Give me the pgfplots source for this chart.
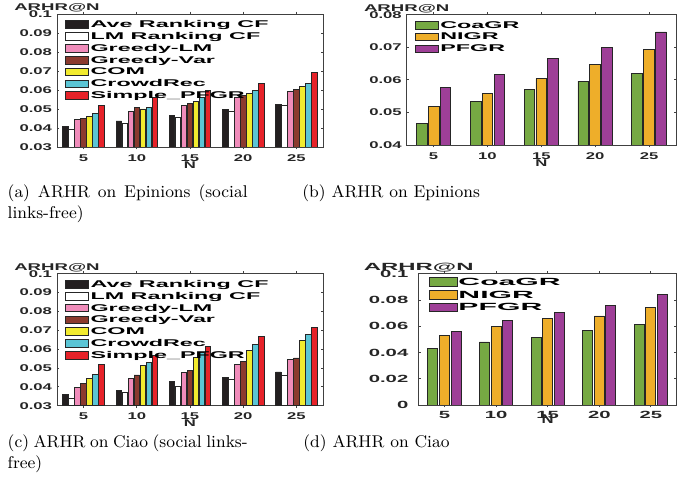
\documentclass[border=0pt]{standalone}
\usepackage{pgfplots}
\pgfplotsset{compat=1.18}
\usepackage{pgfplotstable}
\usepackage{fontspec}
% Wide bold sans used for everything inside the plots
\newfontfamily\plotfont{Liberation Sans Bold}[FakeStretch=1.7]
\newfontfamily\plotfontwide{Liberation Sans Bold}[FakeStretch=1.95]
\newfontfamily\legfont{Liberation Sans Bold}[FakeStretch=2.38]
\newfontfamily\legfontwide{Liberation Sans Bold}[FakeStretch=2.9]
\newfontfamily\labfont{Liberation Sans Bold}[FakeStretch=1.9]
\newfontfamily\labfontwide{Liberation Sans Bold}[FakeStretch=2.3]
\newfontfamily\nfont{Liberation Sans Bold}[FakeStretch=1.3]
\newcommand\pfs{\plotfont\fontsize{4.9}{5.2}\selectfont}
\newcommand\pfw{\plotfontwide\fontsize{5.2}{5.6}\selectfont}
\newcommand\lfs{\legfont\fontsize{4.9}{5.2}\selectfont}
\newcommand\lfw{\legfontwide\fontsize{5.2}{5.6}\selectfont}
\newcommand\yls{\labfont\fontsize{4.9}{5.2}\selectfont}
\newcommand\ylw{\labfontwide\fontsize{5.2}{5.6}\selectfont}
\newcommand\xlw{\nfont\fontsize{6.4}{6.8}\selectfont}

\definecolor{cAve}{HTML}{231F20}
\definecolor{cLM}{HTML}{FFFFFF}
\definecolor{cGLM}{HTML}{F08CBA}
\definecolor{cGVar}{HTML}{8B3A2E}
\definecolor{cCOM}{HTML}{F2EB2F}
\definecolor{cCrowd}{HTML}{5BC5D5}
\definecolor{cSimple}{HTML}{E62229}
\definecolor{cCoa}{HTML}{76A943}
\definecolor{cNIGR}{HTML}{EEAE2A}
\definecolor{cPFGR}{HTML}{9E3F97}

% ARHR@N, Epinions, social links-free baselines
\pgfplotstableread{
idx ave    lm     glm    gvar   com    crowd  simple
1   0.0407 0.0394 0.0443 0.0452 0.0463 0.0478 0.0520
2   0.0437 0.0426 0.0487 0.0510 0.0500 0.0510 0.0560
3   0.0468 0.0458 0.0517 0.0531 0.0542 0.0559 0.0598
4   0.0496 0.0489 0.0563 0.0571 0.0584 0.0598 0.0636
5   0.0526 0.0520 0.0594 0.0605 0.0619 0.0636 0.0690
}\tabEpFree
% ARHR@N, Epinions
\pgfplotstableread{
idx coa    nigr   pfgr
1   0.0465 0.0518 0.0578
2   0.0535 0.0558 0.0617
3   0.0571 0.0604 0.0665
4   0.0596 0.0648 0.0699
5   0.0620 0.0694 0.0747
}\tabEp
% ARHR@N, Ciao, social links-free baselines
\pgfplotstableread{
idx ave    lm     glm    gvar   com    crowd  simple
1   0.0358 0.0339 0.0395 0.0417 0.0443 0.0466 0.0521
2   0.0380 0.0371 0.0445 0.0463 0.0512 0.0530 0.0567
3   0.0427 0.0403 0.0477 0.0487 0.0556 0.0583 0.0616
4   0.0449 0.0438 0.0519 0.0535 0.0595 0.0625 0.0668
5   0.0479 0.0461 0.0544 0.0553 0.0646 0.0676 0.0717
}\tabCiFree
% ARHR@N, Ciao
\pgfplotstableread{
idx coa    nigr   pfgr
1   0.0431 0.0533 0.0563
2   0.0480 0.0596 0.0645
3   0.0515 0.0660 0.0706
4   0.0569 0.0678 0.0760
5   0.0614 0.0746 0.0843
}\tabCi

\pgfplotsset{
  arhr/.style={
    scale only axis, anchor=south west,
    xmin=0.5, xmax=5.5,
    xtick={1,2,3,4,5}, xticklabels={5,10,15,20,25},
    tick align=inside, xtick pos=both, ytick pos=both,
    major tick length=1.2pt,
    axis line style={black!75, line width=0.4pt},
    tick style={black!75, line width=0.4pt},
    scaled y ticks=false,
    /pgf/number format/assume math mode=true,
    yticklabel style={/pgf/number format/fixed, /pgf/number format/precision=2,
      inner sep=0pt, xshift=-2.3pt, text=black!85},
    xticklabel style={inner sep=0pt, yshift=-2.3pt, text=black!85},
    xlabel={N}, ylabel={ARHR@N},
    every axis x label/.style={at={(rel axis cs:0.5,0)}, anchor=north,
      yshift=-7pt, inner sep=0pt, text=black!85},
    every axis y label/.style={at={(rel axis cs:0,1)}, anchor=base,
      yshift=1.75pt, inner sep=0pt, text=black!85},
    every axis plot/.append style={draw=black!85, line width=0.4pt},
    legend cell align=left,
  },
  smallfont/.style={
    ticklabel style={font=\pfs}, xlabel style={font=\pfs}, ylabel style={font=\yls},
    legend style={draw=none, fill=none, at={(rel axis cs:0,1)},
      anchor=north west, xshift=4pt, yshift=-3pt, inner sep=0pt,
      row sep=0.8pt, column sep=0.7pt, font=\lfs,
      nodes={inner sep=0pt, font=\lfs}},
    legend image code/.code={\draw[##1] (0pt,-1.4pt) rectangle (11.5pt,2.4pt);},
  },
  widefont/.style={
    ticklabel style={font=\pfw}, xlabel style={font=\xlw, yshift=2.2pt},
    ylabel style={font=\ylw},
    yticklabel style={xshift=-2.7pt},
    xticklabel style={yshift=0.7pt},
    legend style={draw=none, fill=none, at={(rel axis cs:0,1)},
      anchor=north west, xshift=4.8pt, yshift=-1.7pt, inner sep=0pt,
      row sep=0.75pt, column sep=0.5pt, font=\lfw,
      nodes={inner sep=0pt, font=\lfw}},
    legend image code/.code={\draw[##1] (0pt,-1.5pt) rectangle (14pt,2.8pt);},
  },
}

\begin{document}
\begin{tikzpicture}
\path[use as bounding box] (0pt,0pt) rectangle (346.5pt,245.5pt);

% (a)
\begin{axis}[arhr, at={(28.5pt,172pt)}, width=133pt, height=66.5pt,
  ymin=0.03, ymax=0.1, ytick={0.03,0.04,0.05,0.06,0.07,0.08,0.09,0.1},
  ybar=0.25pt, bar width=2.75pt, smallfont]
\addplot[fill=cAve]    table[x=idx,y=ave]{\tabEpFree};    \addlegendentry{Ave Ranking CF}
\addplot[fill=cLM]     table[x=idx,y=lm]{\tabEpFree};     \addlegendentry{LM Ranking CF}
\addplot[fill=cGLM]    table[x=idx,y=glm]{\tabEpFree};    \addlegendentry{Greedy-LM}
\addplot[fill=cGVar]   table[x=idx,y=gvar]{\tabEpFree};   \addlegendentry{Greedy-Var}
\addplot[fill=cCOM]    table[x=idx,y=com]{\tabEpFree};    \addlegendentry{COM}
\addplot[fill=cCrowd]  table[x=idx,y=crowd]{\tabEpFree};  \addlegendentry{CrowdRec}
\addplot[fill=cSimple] table[x=idx,y=simple]{\tabEpFree}; \addlegendentry{Simple\_PFGR}
\end{axis}

% (b)
\begin{axis}[arhr, at={(203.35pt,173pt)}, width=134.65pt, height=65.15pt,
  ymin=0.04, ymax=0.08, ytick={0.04,0.05,0.06,0.07,0.08},
  ybar=0.6pt, bar width=5.35pt, smallfont]
\addplot[fill=cCoa]  table[x=idx,y=coa]{\tabEp};  \addlegendentry{CoaGR}
\addplot[fill=cNIGR] table[x=idx,y=nigr]{\tabEp}; \addlegendentry{NIGR}
\addplot[fill=cPFGR] table[x=idx,y=pfgr]{\tabEp}; \addlegendentry{PFGR}
\end{axis}

% (c)
\begin{axis}[arhr, at={(28.5pt,42.65pt)}, width=133pt, height=66pt,
  ymin=0.03, ymax=0.1, ytick={0.03,0.04,0.05,0.06,0.07,0.08,0.09,0.1},
  ybar=0.25pt, bar width=2.75pt, smallfont]
\addplot[fill=cAve]    table[x=idx,y=ave]{\tabCiFree};    \addlegendentry{Ave Ranking CF}
\addplot[fill=cLM]     table[x=idx,y=lm]{\tabCiFree};     \addlegendentry{LM Ranking CF}
\addplot[fill=cGLM]    table[x=idx,y=glm]{\tabCiFree};    \addlegendentry{Greedy-LM}
\addplot[fill=cGVar]   table[x=idx,y=gvar]{\tabCiFree};   \addlegendentry{Greedy-Var}
\addplot[fill=cCOM]    table[x=idx,y=com]{\tabCiFree};    \addlegendentry{COM}
\addplot[fill=cCrowd]  table[x=idx,y=crowd]{\tabCiFree};  \addlegendentry{CrowdRec}
\addplot[fill=cSimple] table[x=idx,y=simple]{\tabCiFree}; \addlegendentry{Simple\_PFGR}
\end{axis}

% (d)
\begin{axis}[arhr, at={(209.35pt,43pt)}, width=129pt, height=65.65pt,
  ymin=0, ymax=0.1, ytick={0,0.02,0.04,0.06,0.08,0.1},
  ybar=0.8pt, bar width=5.0pt, widefont]
\addplot[fill=cCoa]  table[x=idx,y=coa]{\tabCi};  \addlegendentry{CoaGR}
\addplot[fill=cNIGR] table[x=idx,y=nigr]{\tabCi}; \addlegendentry{NIGR}
\addplot[fill=cPFGR] table[x=idx,y=pfgr]{\tabCi}; \addlegendentry{PFGR}
\end{axis}

% sub-captions
\tikzset{subcap/.style={anchor=base west, inner sep=0pt, text width=120pt,
  align=justify, font=\fontsize{8.5}{10.5}\selectfont}}
\node[subcap] at (3.65pt,146.85pt) {(a) ARHR on Epinions (social\linebreak links-free)};
\node[subcap] at (151pt,146.85pt) {(b) ARHR on Epinions};
\node[subcap] at (3.65pt,21.85pt) {(c) ARHR on Ciao (social links-\linebreak free)};
\node[subcap] at (151.5pt,21.85pt) {(d) ARHR on Ciao};
\end{tikzpicture}
\end{document}
